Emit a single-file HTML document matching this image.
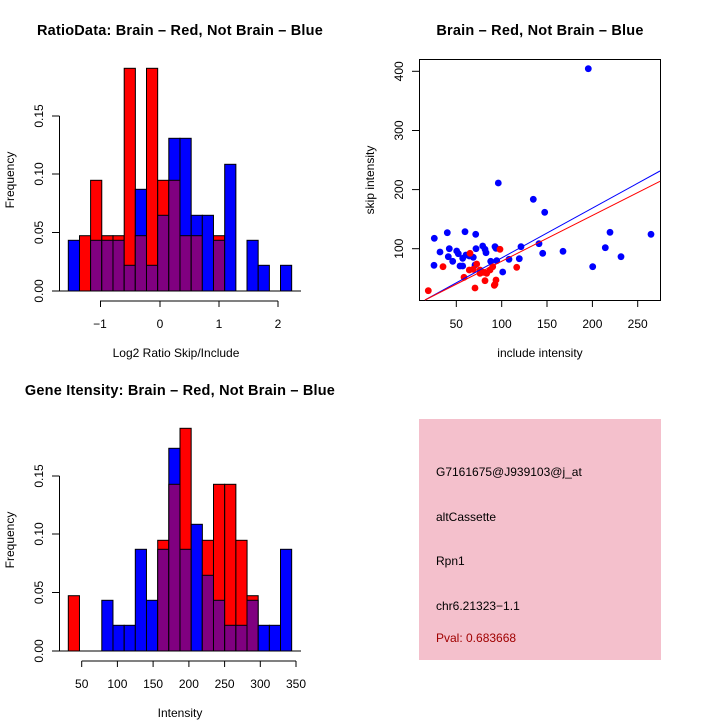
<!DOCTYPE html>
<html><head><meta charset="utf-8"><style>
html,body{margin:0;padding:0;background:#fff}
svg{display:block;font-family:"Liberation Sans",Arial,sans-serif}
</style></head><body>
<svg width="720" height="720" viewBox="0 0 720 720" xmlns="http://www.w3.org/2000/svg">
<rect width="720" height="720" fill="#fff"/>
<!-- Titles -->
<g font-size="14.5" font-weight="bold" text-anchor="middle" letter-spacing="0.2">
<text x="180" y="35">RatioData: Brain – Red, Not Brain – Blue</text>
<text x="540" y="35">Brain – Red, Not Brain – Blue</text>
<text x="180" y="395">Gene Itensity: Brain – Red, Not Brain – Blue</text>
</g>

<!-- Top-left histogram -->
<g stroke="#000" stroke-width="1">
<rect x="68.3" y="240.3" width="11.17" height="50.7" fill="#0000ff"/>
<rect x="79.5" y="235.7" width="11.17" height="55.3" fill="#ff0000"/>
<rect x="90.6" y="180.3" width="11.17" height="110.7" fill="#ff0000"/>
<rect x="90.6" y="240.3" width="11.17" height="50.7" fill="#800080"/>
<rect x="101.8" y="235.7" width="11.17" height="55.3" fill="#ff0000"/>
<rect x="101.8" y="240.3" width="11.17" height="50.7" fill="#800080"/>
<rect x="113.0" y="235.7" width="11.17" height="55.3" fill="#ff0000"/>
<rect x="113.0" y="240.3" width="11.17" height="50.7" fill="#800080"/>
<rect x="124.2" y="68.3" width="11.17" height="222.7" fill="#ff0000"/>
<rect x="124.2" y="265.3" width="11.17" height="25.7" fill="#800080"/>
<rect x="135.3" y="189.3" width="11.17" height="101.7" fill="#0000ff"/>
<rect x="135.3" y="235.7" width="11.17" height="55.3" fill="#800080"/>
<rect x="146.5" y="68.3" width="11.17" height="222.7" fill="#ff0000"/>
<rect x="146.5" y="265.3" width="11.17" height="25.7" fill="#800080"/>
<rect x="157.7" y="180.3" width="11.17" height="110.7" fill="#ff0000"/>
<rect x="157.7" y="215.3" width="11.17" height="75.7" fill="#800080"/>
<rect x="168.8" y="138.3" width="11.17" height="152.7" fill="#0000ff"/>
<rect x="168.8" y="180.3" width="11.17" height="110.7" fill="#800080"/>
<rect x="180.0" y="138.3" width="11.17" height="152.7" fill="#0000ff"/>
<rect x="180.0" y="235.7" width="11.17" height="55.3" fill="#800080"/>
<rect x="191.2" y="215.3" width="11.17" height="75.7" fill="#0000ff"/>
<rect x="191.2" y="235.7" width="11.17" height="55.3" fill="#800080"/>
<rect x="202.3" y="215.3" width="11.17" height="75.7" fill="#0000ff"/>
<rect x="213.5" y="235.7" width="11.17" height="55.3" fill="#ff0000"/>
<rect x="213.5" y="240.3" width="11.17" height="50.7" fill="#800080"/>
<rect x="224.7" y="164.3" width="11.17" height="126.7" fill="#0000ff"/>
<rect x="247.0" y="240.3" width="11.17" height="50.7" fill="#0000ff"/>
<rect x="258.2" y="265.3" width="11.17" height="25.7" fill="#0000ff"/>
<rect x="280.5" y="265.3" width="11.17" height="25.7" fill="#0000ff"/>
<line x1="59" y1="291" x2="301" y2="291"/>
<line x1="59.5" y1="291" x2="59.5" y2="116"/>
<line x1="52" y1="291" x2="59.5" y2="291"/>
<line x1="52" y1="232.5" x2="59.5" y2="232.5"/>
<line x1="52" y1="174" x2="59.5" y2="174"/>
<line x1="52" y1="116" x2="59.5" y2="116"/>
<line x1="100" y1="301" x2="278" y2="301"/>
<line x1="100.5" y1="301" x2="100.5" y2="307"/>
<line x1="160" y1="301" x2="160" y2="307"/>
<line x1="219" y1="301" x2="219" y2="307"/>
<line x1="278" y1="301" x2="278" y2="307"/>
</g>
<g font-size="12" text-anchor="middle">
<text x="100" y="328">−1</text><text x="160" y="328">0</text><text x="219" y="328">1</text><text x="278" y="328">2</text>
<text x="176" y="357">Log2 Ratio Skip/Include</text>
<text transform="translate(43,291) rotate(-90)">0.00</text>
<text transform="translate(43,232.5) rotate(-90)">0.05</text>
<text transform="translate(43,174) rotate(-90)">0.10</text>
<text transform="translate(43,116) rotate(-90)">0.15</text>
<text transform="translate(14,180) rotate(-90)">Frequency</text>
</g>

<!-- Bottom-left histogram -->
<g stroke="#000" stroke-width="1">
<rect x="68.3" y="595.7" width="11.17" height="55.3" fill="#ff0000"/>
<rect x="101.8" y="600.3" width="11.17" height="50.7" fill="#0000ff"/>
<rect x="113.0" y="625.3" width="11.17" height="25.7" fill="#0000ff"/>
<rect x="124.2" y="625.3" width="11.17" height="25.7" fill="#0000ff"/>
<rect x="135.3" y="549.3" width="11.17" height="101.7" fill="#0000ff"/>
<rect x="146.5" y="600.3" width="11.17" height="50.7" fill="#0000ff"/>
<rect x="157.7" y="540.3" width="11.17" height="110.7" fill="#ff0000"/>
<rect x="157.7" y="549.3" width="11.17" height="101.7" fill="#800080"/>
<rect x="168.8" y="448.3" width="11.17" height="202.7" fill="#0000ff"/>
<rect x="168.8" y="484.3" width="11.17" height="166.7" fill="#800080"/>
<rect x="180.0" y="428.3" width="11.17" height="222.7" fill="#ff0000"/>
<rect x="180.0" y="549.3" width="11.17" height="101.7" fill="#800080"/>
<rect x="191.2" y="524.3" width="11.17" height="126.7" fill="#0000ff"/>
<rect x="202.3" y="540.3" width="11.17" height="110.7" fill="#ff0000"/>
<rect x="202.3" y="575.3" width="11.17" height="75.7" fill="#800080"/>
<rect x="213.5" y="484.3" width="11.17" height="166.7" fill="#ff0000"/>
<rect x="213.5" y="600.3" width="11.17" height="50.7" fill="#800080"/>
<rect x="224.7" y="484.3" width="11.17" height="166.7" fill="#ff0000"/>
<rect x="224.7" y="625.3" width="11.17" height="25.7" fill="#800080"/>
<rect x="235.9" y="540.3" width="11.17" height="110.7" fill="#ff0000"/>
<rect x="235.9" y="625.3" width="11.17" height="25.7" fill="#800080"/>
<rect x="247.0" y="595.7" width="11.17" height="55.3" fill="#ff0000"/>
<rect x="247.0" y="600.3" width="11.17" height="50.7" fill="#800080"/>
<rect x="258.2" y="625.3" width="11.17" height="25.7" fill="#0000ff"/>
<rect x="269.4" y="625.3" width="11.17" height="25.7" fill="#0000ff"/>
<rect x="280.5" y="549.3" width="11.17" height="101.7" fill="#0000ff"/>
<line x1="59" y1="651" x2="301" y2="651"/>
<line x1="59.5" y1="651" x2="59.5" y2="476"/>
<line x1="52" y1="651" x2="59.5" y2="651"/>
<line x1="52" y1="592.5" x2="59.5" y2="592.5"/>
<line x1="52" y1="534" x2="59.5" y2="534"/>
<line x1="52" y1="476" x2="59.5" y2="476"/>
<line x1="81.7" y1="661" x2="296" y2="661"/>
<line x1="81.7" y1="661" x2="81.7" y2="667"/>
<line x1="117.4" y1="661" x2="117.4" y2="667"/>
<line x1="153.1" y1="661" x2="153.1" y2="667"/>
<line x1="188.9" y1="661" x2="188.9" y2="667"/>
<line x1="224.6" y1="661" x2="224.6" y2="667"/>
<line x1="260.3" y1="661" x2="260.3" y2="667"/>
<line x1="296" y1="661" x2="296" y2="667"/>
</g>
<g font-size="12" text-anchor="middle">
<text x="81.7" y="688">50</text><text x="117.4" y="688">100</text><text x="153.1" y="688">150</text><text x="188.9" y="688">200</text><text x="224.6" y="688">250</text><text x="260.3" y="688">300</text><text x="296" y="688">350</text>
<text x="180" y="717">Intensity</text>
<text transform="translate(43,651) rotate(-90)">0.00</text>
<text transform="translate(43,592.5) rotate(-90)">0.05</text>
<text transform="translate(43,534) rotate(-90)">0.10</text>
<text transform="translate(43,476) rotate(-90)">0.15</text>
<text transform="translate(14,540) rotate(-90)">Frequency</text>
</g>

<!-- Scatter -->
<g stroke="#000" stroke-width="1" fill="none">
<rect x="419.5" y="59.5" width="241" height="241"/>
<line x1="456.3" y1="300" x2="456.3" y2="307"/>
<line x1="501.7" y1="300" x2="501.7" y2="307"/>
<line x1="547" y1="300" x2="547" y2="307"/>
<line x1="592.4" y1="300" x2="592.4" y2="307"/>
<line x1="637.7" y1="300" x2="637.7" y2="307"/>
<line x1="412" y1="248.7" x2="419.5" y2="248.7"/>
<line x1="412" y1="189.6" x2="419.5" y2="189.6"/>
<line x1="412" y1="130.5" x2="419.5" y2="130.5"/>
<line x1="412" y1="71.3" x2="419.5" y2="71.3"/>
</g>
<g font-size="12" text-anchor="middle">
<text x="456.3" y="328">50</text><text x="501.7" y="328">100</text><text x="547" y="328">150</text><text x="592.4" y="328">200</text><text x="637.7" y="328">250</text>
<text x="540" y="357">include intensity</text>
<text transform="translate(403,248.7) rotate(-90)">100</text>
<text transform="translate(403,189.6) rotate(-90)">200</text>
<text transform="translate(403,130.5) rotate(-90)">300</text>
<text transform="translate(403,71.3) rotate(-90)">400</text>
<text transform="translate(374,180) rotate(-90)">skip intensity</text>
</g>
<g fill="#0000ff">
<circle cx="434.3" cy="238.3" r="3.4"/><circle cx="434" cy="265.3" r="3.4"/><circle cx="447.3" cy="232.7" r="3.4"/><circle cx="440" cy="252" r="3.4"/>
<circle cx="449.3" cy="248.7" r="3.4"/><circle cx="448.3" cy="256.7" r="3.4"/><circle cx="452.7" cy="261.3" r="3.4"/><circle cx="456.7" cy="251" r="3.4"/>
<circle cx="458.3" cy="253.7" r="3.4"/><circle cx="465" cy="231.7" r="3.4"/><circle cx="475.7" cy="234.3" r="3.4"/><circle cx="476" cy="248.7" r="3.4"/>
<circle cx="460" cy="266" r="3.4"/><circle cx="462.7" cy="258.3" r="3.4"/><circle cx="466" cy="255" r="3.4"/><circle cx="469.3" cy="256" r="3.4"/>
<circle cx="473.3" cy="257.3" r="3.4"/><circle cx="475" cy="265" r="3.4"/><circle cx="482.7" cy="246" r="3.4"/><circle cx="485" cy="249.3" r="3.4"/>
<circle cx="486" cy="252.7" r="3.4"/><circle cx="490.7" cy="261.3" r="3.4"/><circle cx="495" cy="246.7" r="3.4"/><circle cx="496.7" cy="260.7" r="3.4"/>
<circle cx="496" cy="248.3" r="3.4"/><circle cx="498.3" cy="183" r="3.4"/><circle cx="509" cy="259.3" r="3.4"/><circle cx="502.7" cy="272" r="3.4"/>
<circle cx="519.3" cy="258.7" r="3.4"/><circle cx="521" cy="246.7" r="3.4"/><circle cx="533.3" cy="199.3" r="3.4"/><circle cx="539" cy="243.7" r="3.4"/>
<circle cx="542.7" cy="253.3" r="3.4"/><circle cx="544.7" cy="212.3" r="3.4"/><circle cx="563" cy="251.3" r="3.4"/><circle cx="588.3" cy="68.7" r="3.4"/>
<circle cx="592.7" cy="266.7" r="3.4"/><circle cx="605.3" cy="247.7" r="3.4"/><circle cx="610" cy="232.3" r="3.4"/><circle cx="621" cy="256.7" r="3.4"/>
<circle cx="651" cy="234.3" r="3.4"/><circle cx="462.7" cy="266" r="3.4"/>
</g>
<g fill="#ff0000">
<circle cx="428.3" cy="290.7" r="3.4"/><circle cx="443" cy="266.7" r="3.4"/><circle cx="464" cy="277.3" r="3.4"/><circle cx="470" cy="253.3" r="3.4"/>
<circle cx="469.3" cy="270" r="3.4"/><circle cx="473.3" cy="269.3" r="3.4"/><circle cx="475" cy="288" r="3.4"/><circle cx="476.7" cy="264" r="3.4"/>
<circle cx="480" cy="270" r="3.4"/><circle cx="483.3" cy="272.3" r="3.4"/><circle cx="485" cy="280.7" r="3.4"/><circle cx="486.7" cy="273.3" r="3.4"/>
<circle cx="490" cy="270" r="3.4"/><circle cx="492.7" cy="266.7" r="3.4"/><circle cx="494.3" cy="285.3" r="3.4"/><circle cx="496" cy="280" r="3.4"/>
<circle cx="500" cy="249.3" r="3.4"/><circle cx="516.7" cy="267.3" r="3.4"/><circle cx="495" cy="284.3" r="3.4"/><circle cx="480" cy="273.3" r="3.4"/>
</g>
<line x1="425" y1="300" x2="660" y2="171" stroke="#0000ff" stroke-width="1"/>
<line x1="425" y1="300" x2="660" y2="181.3" stroke="#ff0000" stroke-width="1"/>

<!-- Info panel -->
<rect x="419" y="419" width="242" height="241" fill="#f4c0cc"/>
<g font-size="12">
<text x="436" y="476">G7161675@J939103@j_at</text>
<text x="436" y="521">altCassette</text>
<text x="436" y="565">Rpn1</text>
<text x="436" y="610">chr6.21323−1.1</text>
<text x="436" y="642" fill="#a00000">Pval: 0.683668</text>
</g>
</svg>
</body></html>
